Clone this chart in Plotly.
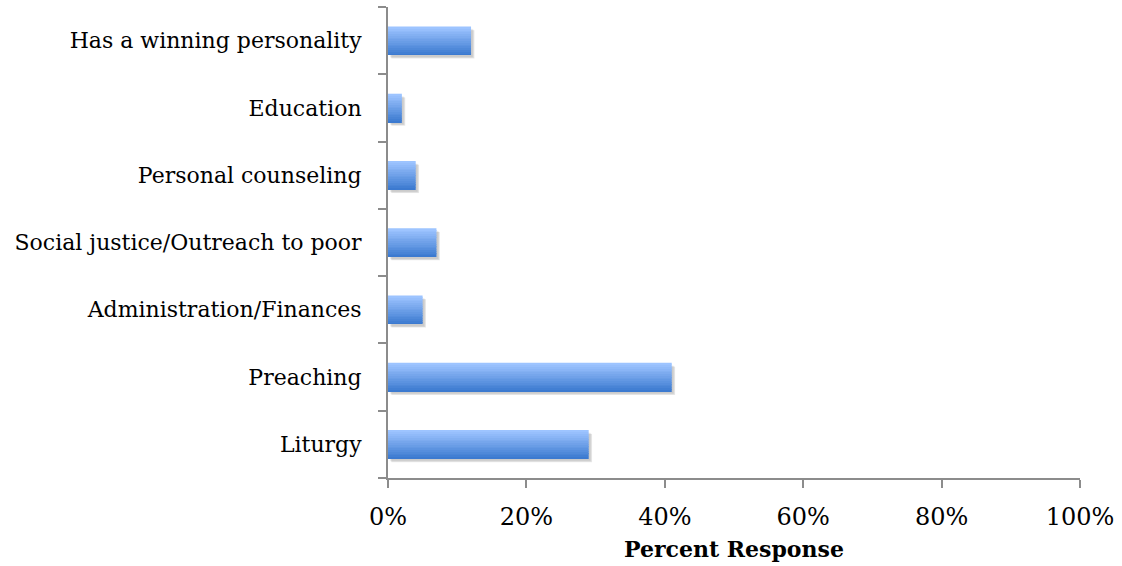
import plotly.graph_objects as go

categories = ["Liturgy", "Preaching", "Administration/Finances",
              "Social justice/Outreach to poor", "Personal counseling",
              "Education", "Has a winning personality"]
values = [29, 41, 5, 7, 4, 2, 12]
x_ticks = [0, 20, 40, 60, 80, 100]

FONT = "DejaVu Serif"
BAR_W = 0.42
N = 16
top_rgb = (157, 196, 255)
bot_rgb = (60, 122, 208)

fig = go.Figure()

# soft shadow
for k, a in enumerate([0.05, 0.07, 0.09]):
    fig.add_trace(go.Bar(
        y=categories, x=values, orientation="h",
        base=0.25 + 0.12 * k,
        width=BAR_W, offset=-BAR_W / 2 - 0.035 - 0.01 * k,
        marker=dict(color=f"rgba(0,0,0,{a})", line=dict(width=0)),
        hoverinfo="skip", showlegend=False))

# gradient bar made of horizontal stripes
sw = BAR_W / N
for i in range(N):
    t = i / (N - 1)  # 0 bottom -> 1 top
    r = round(bot_rgb[0] + (top_rgb[0] - bot_rgb[0]) * t)
    g = round(bot_rgb[1] + (top_rgb[1] - bot_rgb[1]) * t)
    b = round(bot_rgb[2] + (top_rgb[2] - bot_rgb[2]) * t)
    fig.add_trace(go.Bar(
        y=categories, x=values, orientation="h",
        width=sw * 1.05, offset=-BAR_W / 2 + i * sw,
        marker=dict(color=f"rgb({r},{g},{b})", line=dict(width=0)),
        showlegend=False))

fig.update_layout(
    barmode="overlay",
    width=1122, height=566,
    margin=dict(l=388, r=42, t=7, b=88),
    paper_bgcolor="white", plot_bgcolor="white",
    font=dict(family=FONT, size=22, color="black"),
    showlegend=False,
)
fig.update_xaxes(
    range=[0, 100], tickvals=x_ticks, ticktext=[f"{v}%" for v in x_ticks],
    tickfont=dict(size=24),
    showgrid=False, zeroline=False,
    showline=True, linecolor="#8c8c8c", linewidth=2,
    ticks="outside", ticklen=8, tickcolor="#8c8c8c", tickwidth=2,
    ticklabelstandoff=8,
    title=dict(text="<b>Percent Response</b>", font=dict(family=FONT, size=22), standoff=12),
)
fig.update_yaxes(
    range=[-0.5, 6.5], categoryorder="array", categoryarray=categories,
    showgrid=False, zeroline=False,
    showline=True, linecolor="#8c8c8c", linewidth=2,
    ticks="outside", ticklen=8, tickcolor="#8c8c8c", tickwidth=2,
    tickson="boundaries", ticklabelstandoff=20,
)

fig.write_html("out.html", config={"displayModeBar": False},
               post_script="document.body.style.margin='0';")
